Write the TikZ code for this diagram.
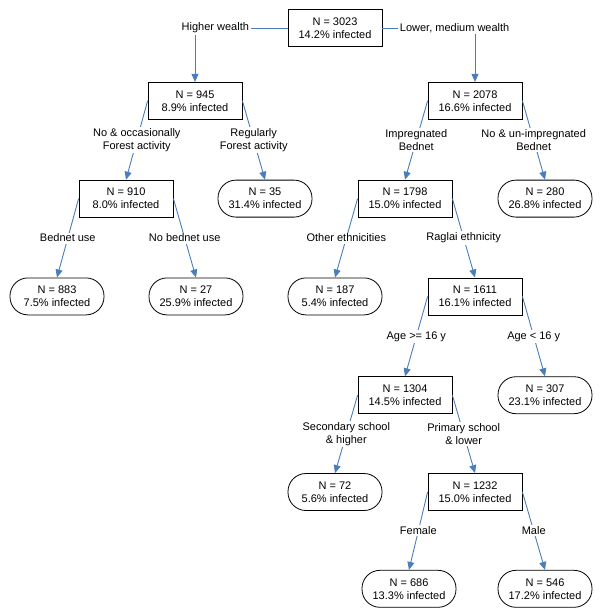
\documentclass[tikz,border=0pt]{standalone}
\usepackage{fontspec}
\setmainfont{Liberation Sans}
\usepackage{xcolor}
\usetikzlibrary{arrows.meta,positioning}
\definecolor{linkblue}{HTML}{4A7EBB}

\begin{document}
\begin{tikzpicture}[
  font=\fontsize{11}{13}\selectfont, >={Triangle[length=8pt,width=7pt]},
  split/.style={draw,line width=0.8pt,minimum width=94pt,minimum height=37pt,align=center,inner sep=2pt},
  leaf/.style={split,rounded corners=18pt},
  link/.style={->,color=linkblue,line width=0.9pt},
  lab/.style={fill=white,text=black,inner sep=1.5pt,align=center}]
  \useasboundingbox (0,0) rectangle (600pt,-613pt);
  \node[split] (all) at (335pt,-28pt) {N = 3023\\14.2\% infected};
  \node[split,below=35pt of all,xshift=-140pt] (rich) {N = 945\\8.9\% infected};
  \node[split,below=35pt of all,xshift=140pt] (poor) {N = 2078\\16.6\% infected};
  \node[split,below=60pt of rich,xshift=-69pt] (nofor) {N = 910\\8.0\% infected};
  \node[leaf,below=60pt of rich,xshift=70pt] (regfor) {N = 35\\31.4\% infected};
  \node[split,below=60pt of poor,xshift=-70pt] (impbed) {N = 1798\\15.0\% infected};
  \node[leaf,below=60pt of poor,xshift=70pt] (noimp) {N = 280\\26.8\% infected};
  \node[leaf,below=60pt of nofor,xshift=-69pt] (bednet) {N = 883\\7.5\% infected};
  \node[leaf,below=60pt of nofor,xshift=70pt] (nobed) {N = 27\\25.9\% infected};
  \node[leaf,below=60pt of impbed,xshift=-70pt] (other) {N = 187\\5.4\% infected};
  \node[split,below=60pt of impbed,xshift=70pt] (raglai) {N = 1611\\16.1\% infected};
  \node[split,below=61pt of raglai,xshift=-70pt] (old) {N = 1304\\14.5\% infected};
  \node[leaf,below=61pt of raglai,xshift=70pt] (young) {N = 307\\23.1\% infected};
  \node[leaf,below=59pt of old,xshift=-70pt] (sec) {N = 72\\5.6\% infected};
  \node[split,below=59pt of old,xshift=70pt] (prim) {N = 1232\\15.0\% infected};
  \node[leaf,below=59pt of prim,xshift=-66pt] (female) {N = 686\\13.3\% infected};
  \node[leaf,below=59pt of prim,xshift=70pt] (male) {N = 546\\17.2\% infected};
  \draw[link] (all.west) -| node[lab,pos=0.39] {Higher wealth} (rich.north);
  \draw[link] (all.east) -| node[lab,pos=0.39] {Lower, medium wealth} (poor.north);
  \draw[link] (rich.west) -- node[lab] {No \& occasionally\\Forest activity} (nofor.north);
  \draw[link] (rich.east) -- node[lab] {Regularly\\Forest activity} (regfor.north);
  \draw[link] (poor.west) -- node[lab] {Impregnated\\Bednet} (impbed.north);
  \draw[link] (poor.east) -- node[lab] {No \& un-impregnated\\Bednet} (noimp.north);
  \draw[link] (nofor.west) -- node[lab] {Bednet use} (bednet.north);
  \draw[link] (nofor.east) -- node[lab] {No bednet use} (nobed.north);
  \draw[link] (impbed.west) -- node[lab] {Other ethnicities} (other.north);
  \draw[link] (impbed.east) -- node[lab] {Raglai ethnicity} (raglai.north);
  \draw[link] (raglai.west) -- node[lab] {Age >= 16 y} (old.north);
  \draw[link] (raglai.east) -- node[lab] {Age < 16 y} (young.north);
  \draw[link] (old.west) -- node[lab] {Secondary school\\\& higher} (sec.north);
  \draw[link] (old.east) -- node[lab] {Primary school\\\& lower} (prim.north);
  \draw[link] (prim.west) -- node[lab] {Female} (female.north);
  \draw[link] (prim.east) -- node[lab] {Male} (male.north);
\end{tikzpicture}
\end{document}
